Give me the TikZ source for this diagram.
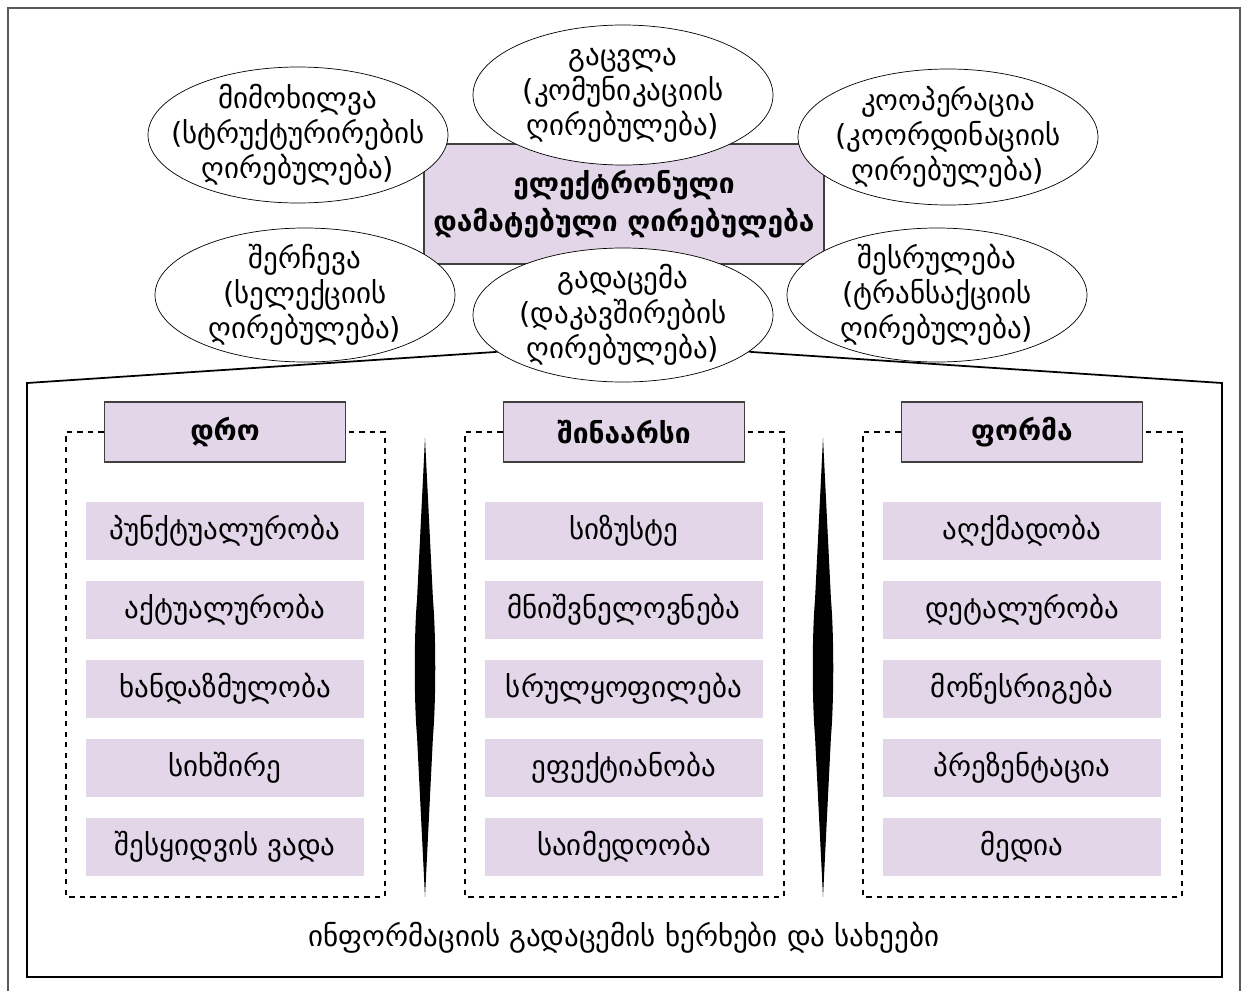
\documentclass[tikz,border=0pt]{standalone}
\usepackage{fontspec}
\setmainfont{DejaVu Sans}
\definecolor{lilac}{HTML}{E2D6E8}

\begin{document}
\begin{tikzpicture}[x=0.02cm, y=-0.02cm,
  txt/.style={font=\fontsize{16.5}{20}\selectfont},
  elltext/.style={txt, align=center},
  itembox/.style={txt, fill=lilac, minimum width=5.58cm, minimum height=1.16cm, inner sep=0pt},
  headbox/.style={itembox, draw=black!75, line width=0.9pt, minimum width=4.82cm, minimum height=1.2cm, font=\fontsize{16}{20}\selectfont\bfseries}]
  \useasboundingbox (0,0) rectangle (1248,991);

  % outer and lower frames
  \draw[black!65, line width=0.9pt] (8,991) -- (8,8) -- (1240,8) -- (1240,991);
  \draw[line width=1pt] (27,977) -- (27,383) -- (495,352) -- (623,330)
    -- (752,352) -- (1222,383) -- (1222,977) -- cycle;

  % centre
  \node[txt, fill=lilac, draw=black!75, line width=0.9pt, minimum width=8cm,
    minimum height=2.4cm, align=center, font=\fontsize{16}{22}\selectfont\bfseries]
    (value) at (624,204) {ელექტრონული\\დამატებული ღირებულება};

  % ellipses round the centre
  \draw[fill=white] (298,135) circle[x radius=150, y radius=68];
  \node[elltext] (review) at (298,135) {მიმოხილვა\\(სტრუქტურირების\\ღირებულება)};
  \draw[fill=white] (623,95) circle[x radius=150, y radius=70];
  \node[elltext] (exchange) at (623,95) {გაცვლა\\(კომუნიკაციის\\ღირებულება)};
  \draw[fill=white] (948,137) circle[x radius=150, y radius=68];
  \node[elltext] (coop) at (948,137) {კოოპერაცია\\(კოორდინაციის\\ღირებულება)};
  \draw[fill=white] (305,295) circle[x radius=150, y radius=67];
  \node[elltext] (select) at (305,295) {შერჩევა\\(სელექციის\\ღირებულება)};
  \draw[fill=white] (623,315) circle[x radius=150, y radius=67];
  \node[elltext] (transfer) at (623,315) {გადაცემა\\(დაკავშირების\\ღირებულება)};
  \draw[fill=white] (937,295) circle[x radius=150, y radius=67];
  \node[elltext] (perform) at (937,295) {შესრულება\\(ტრანსაქციის\\ღირებულება)};

  % three columns
  \foreach \cx/\colname/\head in {225/time/დრო, 624/content/შინაარსი, 1022/form/ფორმა} {
    \node[headbox] (\colname) at (\cx,432) {\head};
    \draw[dashed, line width=0.9pt] (\colname.west) -- (\cx-159,432) -- (\cx-159,897)
      -- (\cx+160,897) -- (\cx+160,432) -- (\colname.east);
  }
  \foreach \t [count=\i] in {პუნქტუალურობა, აქტუალურობა, ხანდაზმულობა, სიხშირე, შესყიდვის ვადა}
    \node[itembox] (time-\i) at (225,452+79*\i) {\t};
  \foreach \t [count=\i] in {სიზუსტე, მნიშვნელოვნება, სრულყოფილება, ეფექტიანობა, საიმედოობა}
    \node[itembox] (content-\i) at (624,452+79*\i) {\t};
  \foreach \t [count=\i] in {აღქმადობა, დეტალურობა, მოწესრიგება, პრეზენტაცია, მედია}
    \node[itembox] (form-\i) at (1022,452+79*\i) {\t};

  % spindles between the columns
  \foreach \sx in {425,823}
    \fill (\sx,438) -- (\sx+8,600) .. controls (\sx+11,635) and (\sx+11,701) .. (\sx+8,736)
      -- (\sx,897) -- (\sx-8,736) .. controls (\sx-11,701) and (\sx-11,635) .. (\sx-8,600) -- cycle;

  \node[txt] (ways) at (624,938) {ინფორმაციის გადაცემის ხერხები და სახეები};
\end{tikzpicture}
\end{document}
